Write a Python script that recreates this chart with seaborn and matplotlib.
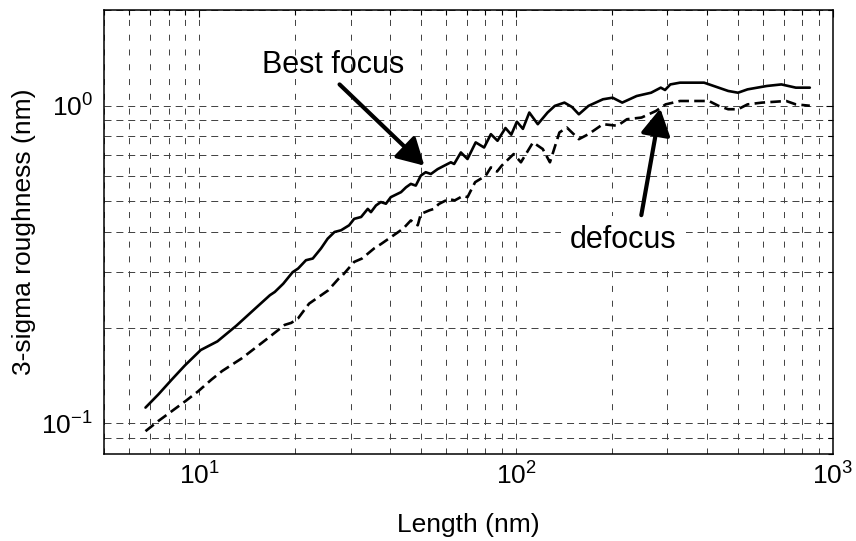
import matplotlib
matplotlib.use("Agg")
import matplotlib.pyplot as plt
import matplotlib.ticker as mticker
import seaborn as sns
import pandas as pd

# Roughness versus measurement length (log-log)
length_best = [6.76, 7.41, 8.17, 9.0, 10.1, 11.4, 13.1, 15.1, 16.7, 17.3,
               18.4, 19.7, 20.5, 21.7, 22.8, 24.2, 25.4, 26.7, 28.0, 29.7,
               30.8, 32.4, 34.0, 34.8, 36.1, 37.4, 38.8, 40.2, 43.3, 44.9,
               46.5, 48.2, 50.0, 51.8, 53.8, 56.5, 59.3, 62.2, 63.7, 66.9,
               70.2, 74.5, 79.2, 83.2, 87.3, 92.5, 96.5, 100.5, 105.0, 110.0,
               117.0, 125.6, 132.4, 142.0, 150.0, 157.7, 169.1, 187.9, 201.5,
               216.1, 240.0, 266.6, 286.0, 295.0, 306.6, 328.9, 391.8, 435.4,
               466.9, 501.4, 537.4, 618.4, 687.3, 763.3, 845.0]
sigma_best = [0.112, 0.123, 0.137, 0.152, 0.170, 0.181, 0.203, 0.231, 0.253,
              0.259, 0.275, 0.299, 0.307, 0.326, 0.330, 0.355, 0.381, 0.400,
              0.405, 0.420, 0.440, 0.446, 0.473, 0.462, 0.485, 0.497, 0.491,
              0.515, 0.534, 0.553, 0.567, 0.560, 0.602, 0.617, 0.609, 0.631,
              0.647, 0.663, 0.655, 0.712, 0.679, 0.766, 0.738, 0.813, 0.775,
              0.850, 0.810, 0.890, 0.845, 0.951, 0.874, 0.951, 0.998, 1.022,
              0.990, 0.939, 0.998, 1.047, 1.059, 1.022, 1.072, 1.098, 1.139,
              1.120, 1.166, 1.181, 1.181, 1.139, 1.112, 1.098, 1.125, 1.153,
              1.166, 1.139, 1.139]

length_defocus = [6.76, 7.41, 8.17, 9.0, 9.91, 10.9, 11.8, 13.6, 16.2, 18.6,
                  19.5, 20.5, 22.2, 25.5, 27.5, 28.3, 30.8, 32.6, 35.6, 37.5,
                  41.7, 44.0, 46.5, 48.9, 50.0, 53.2, 55.0, 57.0, 61.2, 64.0,
                  68.0, 70.2, 74.2, 77.2, 80.0, 83.2, 87.0, 90.0, 98.2, 103.5,
                  113.0, 121.3, 127.8, 136.9, 144.5, 157.7, 169.1, 187.9, 208.6,
                  223.7, 248.7, 276.2, 296.3, 329.0, 405.9, 435.4, 466.9, 501.4,
                  537.4, 597.0, 711.6, 763.3, 845.0]
sigma_defocus = [0.0944, 0.1015, 0.109, 0.117, 0.126, 0.137, 0.146, 0.160,
                 0.183, 0.204, 0.207, 0.214, 0.238, 0.262, 0.285, 0.292, 0.322,
                 0.330, 0.355, 0.367, 0.395, 0.410, 0.435, 0.420, 0.456, 0.468,
                 0.473, 0.490, 0.508, 0.503, 0.520, 0.515, 0.574, 0.588, 0.600,
                 0.639, 0.620, 0.647, 0.704, 0.663, 0.766, 0.730, 0.663, 0.823,
                 0.853, 0.784, 0.813, 0.874, 0.864, 0.906, 0.917, 0.962, 1.009,
                 1.034, 1.034, 0.998, 0.974, 0.974, 1.009, 1.022, 1.034, 1.009,
                 0.999]

x_limits = [5, 1000]
y_limits = [0.08, 2]

sns.set_theme(style="white")
plt.rcParams["font.family"] = ["Liberation Sans", "DejaVu Sans"]
plt.rcParams["mathtext.fontset"] = "custom"
plt.rcParams["mathtext.rm"] = "Liberation Sans"
plt.rcParams["mathtext.it"] = "Liberation Sans:italic"
plt.rcParams["mathtext.bf"] = "Liberation Sans:bold"
for key in ("text.color", "axes.labelcolor", "xtick.color", "ytick.color"):
    plt.rcParams[key] = "black"

W, H = 856, 541
fig = plt.figure(figsize=(W / 100, H / 100), dpi=100)
ax = fig.add_axes([104 / W, 1 - 454 / H, (833 - 104) / W, (454 - 10) / H])

best = pd.DataFrame({"length": length_best, "sigma": sigma_best})
defocus = pd.DataFrame({"length": length_defocus, "sigma": sigma_defocus})

sns.lineplot(data=best, x="length", y="sigma", ax=ax, color="black",
             lw=1.9, estimator=None, sort=False)
sns.lineplot(data=defocus, x="length", y="sigma", ax=ax, color="black",
             lw=1.9, estimator=None, sort=False, linestyle=(0, (4, 2)))

ax.set_xscale("log")
ax.set_yscale("log")
ax.set_xlim(x_limits)
ax.set_ylim(y_limits)

ax.xaxis.set_major_locator(mticker.LogLocator(base=10, numticks=10))
ax.xaxis.set_minor_locator(mticker.LogLocator(base=10, subs=range(2, 10), numticks=20))
ax.yaxis.set_major_locator(mticker.LogLocator(base=10, numticks=10))
ax.yaxis.set_minor_locator(mticker.LogLocator(base=10, subs=range(2, 10), numticks=20))
ax.xaxis.set_minor_formatter(mticker.NullFormatter())
ax.yaxis.set_minor_formatter(mticker.NullFormatter())

# dashed grid on every decade and sub-decade
ax.grid(axis="x", which="both", color="0.25", lw=0.7, linestyle=(0, (6.2, 9.0)))
ax.grid(axis="y", which="both", color="0.25", lw=0.7, linestyle=(0, (7.2, 5.0)))
ax.set_axisbelow(True)

for s in ax.spines.values():
    s.set_color("black")
    s.set_linewidth(1.1)

ax.tick_params(which="both", direction="in", top=True, right=True,
               colors="black", width=0.8)
ax.tick_params(which="major", length=5)
ax.tick_params(which="minor", length=3.5)
ax.tick_params(axis="x", which="major", labelsize=19, pad=6)
ax.tick_params(axis="y", which="major", labelsize=19, pad=8)

ax.set_xlabel("Length (nm)", fontsize=19, va="center")
ax.set_ylabel("3-sigma roughness (nm)", fontsize=19, va="center")
ax.xaxis.set_label_coords(0.5, -0.160)
ax.yaxis.set_label_coords(-0.1100, 0.5)

arrow = dict(arrowstyle="-|>,head_length=0.8,head_width=0.45",
             mutation_scale=20, lw=3, color="black", shrinkA=0, shrinkB=0)

ax.text(26.4, 1.269, "Best focus", fontsize=22, ha="center", va="baseline")
ax.annotate("", xy=(51.3, 0.647), xytext=(27.7, 1.166), arrowprops=arrow)

ax.text(218.1, 0.356, "defocus", fontsize=22, ha="center", va="baseline",
        bbox=dict(boxstyle="square,pad=0.3", facecolor="white", edgecolor="none"))
ax.annotate("", xy=(285, 0.979), xytext=(248.3, 0.452), arrowprops=arrow)

fig.savefig("out.png", dpi=100)
